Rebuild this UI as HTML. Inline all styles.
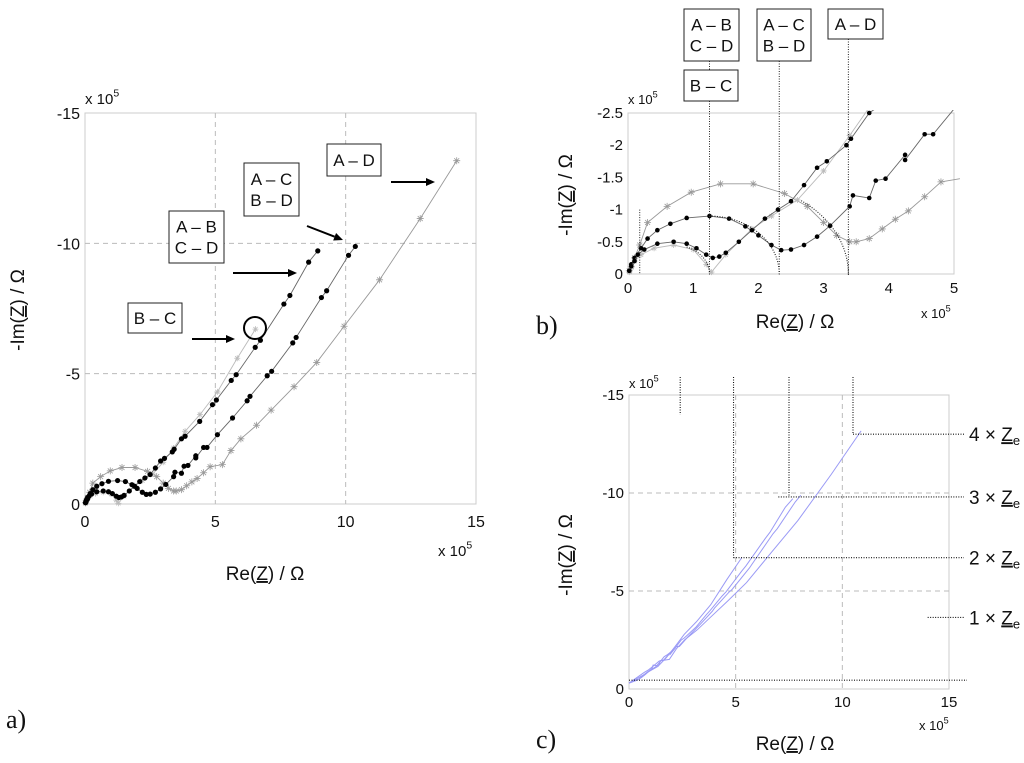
<!DOCTYPE html>
<html><head><meta charset="utf-8"><style>
html,body{margin:0;padding:0;background:#fff;}
svg{display:block;font-family:"Liberation Sans",sans-serif;}
</style></head><body>
<svg id="fig" width="1024" height="763" viewBox="0 0 1024 763" xmlns="http://www.w3.org/2000/svg">
<defs>
<clipPath id="clipB"><rect x="622" y="110" width="338" height="170"/></clipPath>
</defs>
</svg>
<script>
// data in units of 1e5 ohm
const adRe=[0.02,0.05,0.1,0.18,0.3,0.6,0.97,1.42,1.92,2.4,2.75,3.0,3.2,3.4,3.5,3.7,3.9,4.1,4.3,4.55,4.8,5.27,5.6,5.98,6.58,7.14,8.02,8.89,9.94,11.3,12.86,14.26];
const adIm=[0.05,0.12,0.25,0.45,0.8,1.05,1.27,1.4,1.4,1.25,1.05,0.8,0.6,0.5,0.5,0.55,0.7,0.85,0.98,1.2,1.43,1.51,2.05,2.5,3.02,3.6,4.5,5.43,6.82,8.6,10.95,13.17];
const acRe=[0.02,0.05,0.1,0.2,0.3,0.45,0.65,0.9,1.25,1.55,1.8,2.0,2.2,2.35,2.5,2.7,2.9,3.1,3.4,3.45,3.7,3.8,3.95,4.25,4.25,4.55,4.68,5.08,5.66,6.22,6.33,6.99,7.16,7.97,8.1,9.07,9.27,10.11,10.37];
const acIm=[0.05,0.15,0.25,0.4,0.55,0.68,0.78,0.87,0.9,0.86,0.74,0.6,0.45,0.37,0.38,0.45,0.58,0.75,1.05,1.22,1.18,1.45,1.48,1.85,1.77,2.17,2.17,2.66,3.3,3.96,4.13,4.92,5.09,6.18,6.39,7.92,8.18,9.54,9.88];
const abRe=[0.02,0.05,0.1,0.15,0.25,0.45,0.7,0.9,1.05,1.2,1.3,1.4,1.5,1.7,1.9,2.1,2.3,2.5,2.7,2.9,3.05,3.35,3.42,3.7,3.84,4.4,4.89,5.04,5.61,5.8,6.53,6.73,7.63,7.86,8.58,8.93];
const abIm=[0.05,0.12,0.2,0.3,0.38,0.47,0.5,0.47,0.4,0.3,0.25,0.27,0.33,0.5,0.68,0.86,1.0,1.13,1.38,1.65,1.75,2.0,2.1,2.5,2.6,3.17,3.81,3.99,4.74,4.96,6.01,6.28,7.67,8.0,9.28,9.71];
const bcRe=[0.02,0.05,0.1,0.2,0.4,0.7,1.0,1.2,1.28,1.5,1.9,2.2,2.6,3.0,3.4,3.84,4.41,5.08,5.84,6.54];
const bcIm=[0.03,0.1,0.2,0.3,0.4,0.45,0.38,0.15,0.03,0.3,0.7,0.9,1.15,1.6,2.15,2.79,3.43,4.3,5.59,6.71];
// electrode-resistance offsets subtracted in panel c (ad, ac, ab, bc)
const offsets=[3.38,2.32,1.25,1.25];
const ticksA=[0,5,10,15];
const ticksBx=[0,1,2,3,4,5];
const ticksBy=[0,0.5,1,1.5,2,2.5];
const ticksBlab=['0','-0.5','-1','-1.5','-2','-2.5'];

const NS='http://www.w3.org/2000/svg';
const svg=document.getElementById('fig');
function mk(tag,attrs,name,parent){
  const el=document.createElementNS(NS,tag);
  for(const k in attrs) el.setAttribute(k,attrs[k]);
  
  
  (parent||svg).appendChild(el);
  return el;
}
function txt(x,y,s,name,size,anchor,extra){
  const t=mk('text',Object.assign({x:x,y:y,'font-size':size||14,'text-anchor':anchor||'start',fill:'#111'},extra||{}),name);
  t.textContent=s;return t;
}
function zlabel(x,y,pre,post,name,size,rot){
  const t=mk('text',{x:x,y:y,'font-size':size,'text-anchor':'middle',fill:'#111',transform:rot?`rotate(-90 ${x} ${y})`:''},name);
  const a=document.createElementNS(NS,'tspan');a.textContent=pre;t.appendChild(a);
  const z=document.createElementNS(NS,'tspan');z.setAttribute('text-decoration','underline');z.textContent='Z';t.appendChild(z);
  const b=document.createElementNS(NS,'tspan');b.textContent=post;t.appendChild(b);
}
function x105(x,y,name,size){
  const t=mk('text',{x:x,y:y,'font-size':size,fill:'#111'},name);
  t.textContent='x 10';
  const s=document.createElementNS(NS,'tspan');s.setAttribute('font-size',size*0.7);s.setAttribute('dy',-size*0.5);s.textContent='5';t.appendChild(s);
}
function star(g,x,y,r,col,name){
  let d='';
  for(let k=0;k<4;k++){const a=k*Math.PI/4;d+=`M${x-r*Math.cos(a)},${y-r*Math.sin(a)}L${x+r*Math.cos(a)},${y+r*Math.sin(a)}`;}
  mk('path',{d:d,stroke:col,'stroke-width':0.8,fill:'none'},name,g);
}
function series(g,re,im,sx,sy,col,marker,mr,name){
  const pts=re.map((v,i)=>sx(v)+','+sy(im[i])).join(' ');
  mk('polyline',{points:pts,fill:'none',stroke:col,'stroke-width':0.9},name+'-line',g);
  re.forEach((v,i)=>{
    if(marker==='dot') mk('circle',{cx:sx(v),cy:sy(im[i]),r:mr,fill:'#000'},name+'-point',g);
    else if(marker==='star') star(g,sx(v),sy(im[i]),mr,col,name+'-point');
  });
}
function box(x,y,w,h,lines,name,size){
  mk('rect',{x:x,y:y,width:w,height:h,fill:'#fff',stroke:'#222','stroke-width':1},name+'-box');
  lines.forEach((l,i)=>txt(x+w/2,y+h/2+size*0.36+(i-(lines.length-1)/2)*size*1.25,l,name+'-text',size,'middle'));
}
function arrow(x1,y1,x2,y2,name){
  const a=Math.atan2(y2-y1,x2-x1),L=9,W=4;
  mk('line',{x1:x1,y1:y1,x2:x2-L*Math.cos(a),y2:y2-L*Math.sin(a),stroke:'#000','stroke-width':2},name+'-shaft');
  mk('polygon',{points:`${x2},${y2} ${x2-L*Math.cos(a)+W*Math.sin(a)},${y2-L*Math.sin(a)-W*Math.cos(a)} ${x2-L*Math.cos(a)-W*Math.sin(a)},${y2-L*Math.sin(a)+W*Math.cos(a)}`,fill:'#000'},name+'-head');
}

// ---------- Panel a ----------
const ax=v=>85+v*(391/15), ay=v=>504-v*(391/15);
const ga=mk('g',{},'panel-a-plot');
mk('rect',{x:85,y:113,width:391,height:391,fill:'#fff',stroke:'#ccc'},'panel-a-axes-box',ga);
[5,10].forEach(v=>{
  mk('line',{x1:ax(v),y1:113,x2:ax(v),y2:504,stroke:'#bbb','stroke-dasharray':'5,4'},'panel-a-vgrid',ga);
  mk('line',{x1:85,y1:ay(v),x2:476,y2:ay(v),stroke:'#bbb','stroke-dasharray':'5,4'},'panel-a-hgrid',ga);
});
ticksA.forEach(v=>{
  txt(ax(v),527,String(v),'panel-a-x-tick',16,'middle');
  txt(80,ay(v)+6,v===0?'0':'-'+v,'panel-a-y-tick',16,'end');
});
series(ga,adRe,adIm,ax,ay,'#999','star',3.5,'a-series-ad');
series(ga,bcRe,bcIm,ax,ay,'#bbb','star',3,'a-series-bc');
series(ga,acRe,acIm,ax,ay,'#666','dot',2.6,'a-series-ac');
series(ga,abRe,abIm,ax,ay,'#666','dot',2.6,'a-series-ab');
mk('circle',{cx:255,cy:328,r:11,fill:'none',stroke:'#000','stroke-width':2},'b-c-highlight-circle',ga);
x105(85,104,'panel-a-y-exponent',15);
x105(438,556,'panel-a-x-exponent',15);
zlabel(265,580,'Re(',') / Ω','panel-a-x-title',19,false);
zlabel(24,310,'-Im(',') / Ω','panel-a-y-title',19,true);
txt(6,728,'a)','panel-a-label',26,'start',{'font-family':'Liberation Serif, serif'});
box(128,303,54,30,['B – C'],'a-label-bc',17);
box(169,211,55,52,['A – B','C – D'],'a-label-ab-cd',17);
box(244,163,55,53,['A – C','B – D'],'a-label-ac-bd',17);
box(327,144,54,32,['A – D'],'a-label-ad',17);
arrow(192,339,235,339,'a-arrow-bc');
arrow(233,273,297,273,'a-arrow-ab');
arrow(307,226,343,240,'a-arrow-ac');
arrow(391,182,435,182,'a-arrow-ad');

// ---------- Panel b ----------
const bx=v=>628+v*(326/5), by=v=>274-v*(161/2.5);
mk('rect',{x:628,y:113,width:326,height:161,fill:'#fff',stroke:'#ccc'},'panel-b-axes-box');
const gb=mk('g',{'clip-path':'url(#clipB)'},'panel-b-plot');
series(gb,adRe,adIm,bx,by,'#999','star',3.5,'b-series-ad');
series(gb,bcRe,bcIm,bx,by,'#bbb','star',3,'b-series-bc');
series(gb,acRe,acIm,bx,by,'#666','dot',2.3,'b-series-ac');
series(gb,abRe,abIm,bx,by,'#666','dot',2.3,'b-series-ab');
function ellArc(cx,rx,ry,a0,a1,name){
  let d='';for(let k=0;k<=30;k++){const a=a0+(a1-a0)*k/30;d+=(k?'L':'M')+bx(cx+rx*Math.cos(a))+','+by(ry*Math.sin(a));}
  mk('path',{d:d,fill:'none',stroke:'#222','stroke-width':1.1,'stroke-dasharray':'1,1.5'},name,gb);
}
ellArc(0.7,0.55,0.45,1.2,0,'b-fit-arc-1');
ellArc(1.25,1.07,0.9,Math.PI/2,0,'b-fit-arc-2');
ellArc(1.65,1.73,1.4,0.95,0,'b-fit-arc-3');
mk('line',{x1:bx(0.18),y1:by(1.0),x2:bx(0.18),y2:274,stroke:'#222','stroke-dasharray':'1,1.5'},'b-marker-line-0');
[[1.25,61],[2.32,61],[3.38,39]].forEach((p,i)=>{
  mk('line',{x1:bx(p[0]),y1:p[1],x2:bx(p[0]),y2:275,stroke:'#222','stroke-dasharray':'1,1.5'},'b-marker-line');
});
ticksBx.forEach(v=>txt(bx(v),293,String(v),'panel-b-x-tick',15,'middle'));
ticksBy.forEach((v,i)=>txt(623,by(v)+5,ticksBlab[i],'panel-b-y-tick',15,'end'));
x105(628,104,'panel-b-y-exponent',13);
x105(921,318,'panel-b-x-exponent',13);
zlabel(795,328,'Re(',') / Ω','panel-b-x-title',19,false);
zlabel(572,195,'-Im(',') / Ω','panel-b-y-title',19,true);
txt(536,334,'b)','panel-b-label',26,'start',{'font-family':'Liberation Serif, serif'});
box(684,9,55,52,['A – B','C – D'],'b-label-ab-cd',17);
box(684,70,54,31,['B – C'],'b-label-bc',17);
box(757,9,54,52,['A – C','B – D'],'b-label-ac-bd',17);
box(828,9,55,30,['A – D'],'b-label-ad',17);

// ---------- Panel c ----------
const cx=v=>629+v*(320/15), cy=v=>689-v*(294/15);
mk('rect',{x:629,y:395,width:320,height:294,fill:'#fff',stroke:'#ccc'},'panel-c-axes-box');
[5,10].forEach(v=>{
  mk('line',{x1:cx(v),y1:395,x2:cx(v),y2:689,stroke:'#bbb','stroke-dasharray':'5,4'},'panel-c-vgrid');
  mk('line',{x1:629,y1:cy(v),x2:949,y2:cy(v),stroke:'#bbb','stroke-dasharray':'5,4'},'panel-c-hgrid');
});
const gc=mk('g',{},'panel-c-plot');
[[adRe,adIm],[acRe,acIm],[abRe,abIm],[bcRe,bcIm]].forEach((s,j)=>{
  const off=offsets[j];
  const pts=[cx(0)+','+cy(0.3)];
  s[0].forEach((v,i)=>{ if(v>off+0.3) pts.push(cx(v-off)+','+cy(s[1][i])); });
  mk('polyline',{points:pts.join(' '),fill:'none',stroke:'#9a9af5','stroke-width':1},'c-series-line',gc);
});
const dot={stroke:'#111','stroke-width':1.1,'stroke-dasharray':'1,1.5'};
mk('line',Object.assign({x1:629,y1:cy(0.45),x2:967,y2:cy(0.45)},dot),'c-baseline');
[[2.4,14.0],[4.9,6.7],[7.5,9.8],[10.5,13.0]].forEach(p=>mk('line',Object.assign({x1:cx(p[0]),y1:377,x2:cx(p[0]),y2:cy(p[1])},dot),'c-vertical-marker'));
[[10.5,13.0],[7.0,9.8],[4.9,6.7],[14.0,3.65]].forEach(p=>mk('line',Object.assign({x1:cx(p[0]),y1:cy(p[1]),x2:964,y2:cy(p[1])},dot),'c-horizontal-marker'));
[['4',13.0],['3',9.8],['2',6.7],['1',3.65]].forEach(p=>{
  const t=mk('text',{x:969,y:cy(p[1])+7,'font-size':19,fill:'#111'},'c-ze-label-'+p[0]);
  t.textContent=p[0]+' × ';
  const z=document.createElementNS(NS,'tspan');z.setAttribute('text-decoration','underline');z.textContent='Z';t.appendChild(z);
  const e=document.createElementNS(NS,'tspan');e.setAttribute('font-size',13);e.setAttribute('dy',4);e.textContent='e';t.appendChild(e);
});
ticksA.forEach(v=>{
  txt(cx(v),707,String(v),'panel-c-x-tick',15,'middle');
  txt(624,cy(v)+5,v===0?'0':'-'+v,'panel-c-y-tick',15,'end');
});
x105(629,388,'panel-c-y-exponent',13);
x105(919,730,'panel-c-x-exponent',13);
zlabel(795,750,'Re(',') / Ω','panel-c-x-title',19,false);
zlabel(572,555,'-Im(',') / Ω','panel-c-y-title',19,true);
txt(536,748,'c)','panel-c-label',26,'start',{'font-family':'Liberation Serif, serif'});
</script>
</body></html>
